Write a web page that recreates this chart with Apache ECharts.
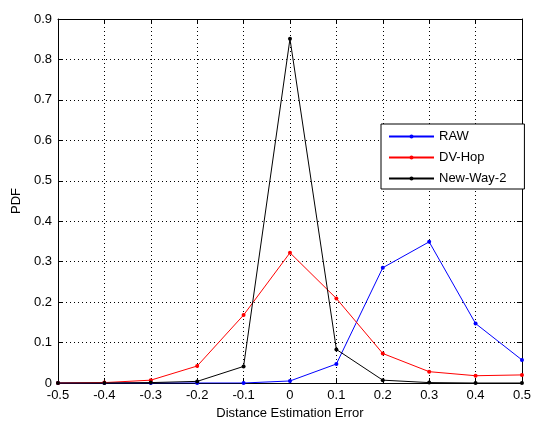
<!DOCTYPE html>
<html>
<head>
<meta charset="utf-8">
<script src="https://cdn.jsdelivr.net/npm/echarts@6/dist/echarts.min.js"></script>
<style>html,body{margin:0;padding:0;background:#fff}#c{width:534px;height:425px}</style>
</head>
<body>
<div id="c"></div>
<script>
var xVals = [-0.5, -0.4, -0.3, -0.2, -0.1, 0, 0.1, 0.2, 0.3, 0.4, 0.5];
var rawVals = [0, 0, 0, 0, 0, 0.005, 0.047, 0.285, 0.349, 0.147, 0.057];
var dvhopVals = [0, 0.001, 0.007, 0.042, 0.168, 0.322, 0.209, 0.073, 0.028, 0.018, 0.02];
var newWayVals = [0, 0, 0.001, 0.004, 0.041, 0.851, 0.083, 0.007, 0.001, 0, 0];
var seriesNames = ['RAW', 'DV-Hop', 'New-Way-2'];
var xTitle = 'Distance Estimation Error';
var yTitle = 'PDF';

function pairs(vals) { return xVals.map(function (x, i) { return [x, vals[i]]; }); }
function fmt(v) { var r = Math.round(v * 10) / 10; return r === 0 ? '0' : String(r); }

var font = 'Liberation Sans, Arial, sans-serif';
var tickStyle = { show: true, inside: true, length: 5, lineStyle: { color: '#000', width: 1 } };
var lineAx = { show: true, onZero: false, lineStyle: { color: '#000', width: 1 } };
var gridLine = { show: true, lineStyle: { color: '#000', width: 1, type: [1, 3] } };

var chart = echarts.init(document.getElementById('c'), null, { renderer: 'canvas' });
function mkSeries(name, vals, color) {
  return {
    name: name, type: 'line', data: pairs(vals), symbol: 'circle', symbolSize: 4,
    showSymbol: true, animation: false,
    itemStyle: { color: color }, lineStyle: { color: color, width: 1 }
  };
}
chart.setOption({
  animation: false,
  backgroundColor: '#fff',
  grid: { left: 58, right: 10, top: 19, bottom: 37, containLabel: false },
  legend: {
    orient: 'vertical', left: 381, top: 124,
    data: seriesNames,
    backgroundColor: '#fff', borderColor: '#000', borderWidth: 1, borderRadius: 0,
    padding: [5, 18, 3, 7], itemGap: 6, itemWidth: 45, itemHeight: 5,
    itemStyle: { borderWidth: 0 },
    textStyle: { fontFamily: font, fontSize: 13, lineHeight: 15, color: '#000' }
  },
  xAxis: [{
    type: 'value', min: -0.5, max: 0.5, interval: 0.1, position: 'bottom',
    axisLine: lineAx, axisTick: tickStyle, splitLine: gridLine,
    axisLabel: { formatter: fmt, color: '#000', fontFamily: font, fontSize: 13, margin: 6 },
    name: xTitle, nameLocation: 'middle', nameGap: 24,
    nameTextStyle: { color: '#000', fontFamily: font, fontSize: 13 }
  }, {
    type: 'value', min: -0.5, max: 0.5, interval: 0.1, position: 'top',
    axisLine: lineAx, axisTick: tickStyle, splitLine: { show: false }, axisLabel: { show: false }
  }],
  yAxis: [{
    type: 'value', min: 0, max: 0.9, interval: 0.1, position: 'left',
    axisLine: lineAx, axisTick: tickStyle, splitLine: gridLine,
    axisLabel: { formatter: fmt, color: '#000', fontFamily: font, fontSize: 13, margin: 6 },
    name: yTitle, nameLocation: 'middle', nameGap: 34, nameRotate: 90,
    nameTextStyle: { color: '#000', fontFamily: font, fontSize: 13 }
  }, {
    type: 'value', min: 0, max: 0.9, interval: 0.1, position: 'right',
    axisLine: lineAx, axisTick: tickStyle, splitLine: { show: false }, axisLabel: { show: false }
  }],
  series: [
    mkSeries(seriesNames[0], rawVals, '#0000ff'),
    mkSeries(seriesNames[1], dvhopVals, '#ff0000'),
    mkSeries(seriesNames[2], newWayVals, '#000000')
  ]
});
</script>
</body>
</html>
